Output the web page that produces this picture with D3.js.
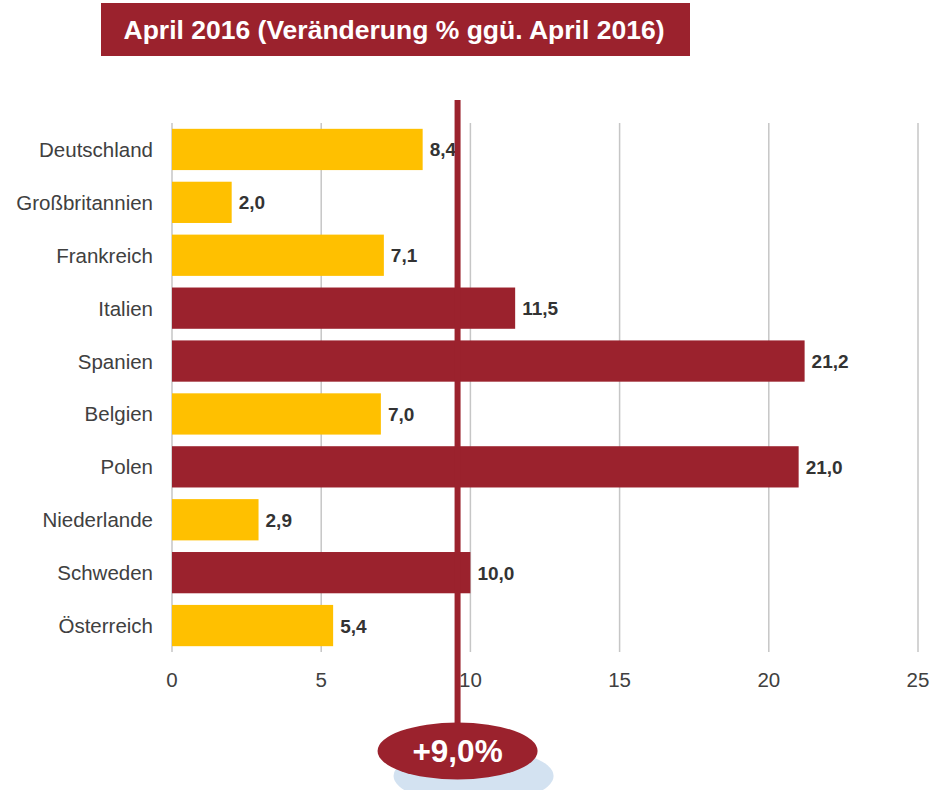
<!DOCTYPE html>
<html><head><meta charset="utf-8">
<script src="https://cdn.jsdelivr.net/npm/d3@7/dist/d3.min.js"></script>
<style>body{margin:0;background:#fff;}svg{display:block;font-family:"Liberation Sans",Arial,sans-serif;}</style>
</head><body>
<script>
const categories = ["Deutschland","Großbritannien","Frankreich","Italien","Spanien","Belgien","Polen","Niederlande","Schweden","Österreich"];
const values = [8.4, 2.0, 7.1, 11.5, 21.2, 7.0, 21.0, 2.9, 10.0, 5.4];
const highlight = [false,false,false,true,true,false,true,false,true,false];
const tickValues = [0,5,10,15,20,25];
const titleText = "April 2016 (Veränderung % ggü. April 2016)";
const markerValue = 9.57;
const markerLabel = "+9,0%";

const W = 944, H = 790;
const svg = d3.select("body").append("svg").attr("width", W).attr("height", H);
const red = "#9B222D", yellow = "#FFC000";

const x = d3.scaleLinear().domain([0,25]).range([172,918]);
const y = d3.scaleBand().domain(categories).range([123,652]).paddingInner(0.22).paddingOuter(0.11);

// title
svg.append("rect").attr("x",101).attr("y",3).attr("width",589).attr("height",53).attr("fill",red);
svg.append("text").attr("x",394).attr("y",38.5).attr("text-anchor","middle").attr("fill","#fff")
  .attr("font-size",26.5).attr("font-weight","bold").text(titleText);

// grid
svg.append("g").selectAll("line").data(tickValues).join("line")
  .attr("x1",d=>x(d)).attr("x2",d=>x(d)).attr("y1",123).attr("y2",652)
  .attr("stroke","#c6c6c6").attr("stroke-width",1.5);

// x ticks labels
svg.append("g").selectAll("text").data(tickValues).join("text")
  .attr("x",d=>x(d)).attr("y",687).attr("text-anchor","middle").attr("fill","#404040")
  .attr("font-size",20.5).text(d=>d);

// category labels
svg.append("g").selectAll("text").data(categories).join("text")
  .attr("x",153).attr("y",d=>y(d)+y.bandwidth()/2+7.5).attr("text-anchor","end")
  .attr("fill","#404040").attr("font-size",20.5).text(d=>d);

// bars
svg.append("g").selectAll("rect").data(categories).join("rect")
  .attr("x",x(0)).attr("y",d=>y(d)).attr("height",y.bandwidth())
  .attr("width",(d,i)=>x(values[i])-x(0))
  .attr("fill",(d,i)=>highlight[i]?red:yellow);

// value labels
svg.append("g").selectAll("text").data(categories).join("text")
  .attr("x",(d,i)=>x(values[i])+7).attr("y",d=>y(d)+y.bandwidth()/2+7)
  .attr("fill","#333").attr("font-size",19).attr("font-weight","bold")
  .text((d,i)=>d3.format(".1f")(values[i]).replace(".",","));

// shadow ellipse
const mx = x(markerValue);
svg.append("ellipse").attr("cx",mx+16).attr("cy",776).attr("rx",80).attr("ry",28).attr("fill","#d3e2f1");

// marker line
svg.append("line").attr("x1",mx).attr("x2",mx).attr("y1",100).attr("y2",730)
  .attr("stroke",red).attr("stroke-width",6);

// ellipse
svg.append("ellipse").attr("cx",mx).attr("cy",751).attr("rx",80).attr("ry",28.5).attr("fill",red);
svg.append("text").attr("x",mx).attr("y",762).attr("text-anchor","middle").attr("fill","#fff")
  .attr("font-size",31.5).attr("font-weight","bold").text(markerLabel);
</script>
</body></html>
